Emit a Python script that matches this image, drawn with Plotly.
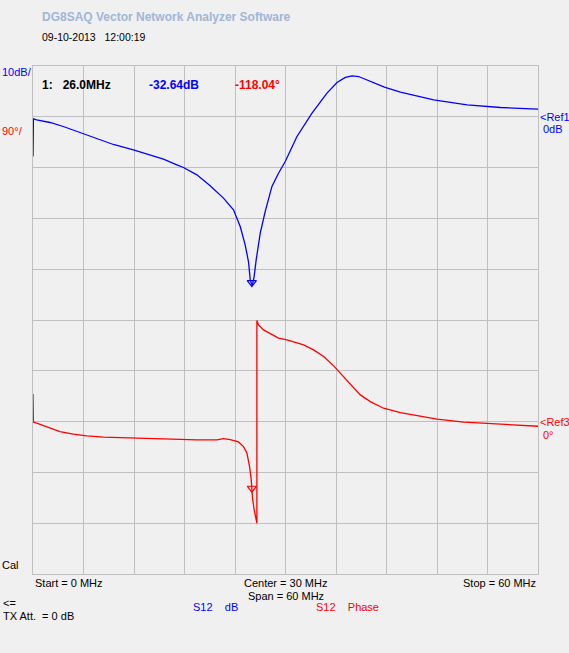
import plotly.graph_objects as go

# ---- data ----
freq_db = [0.0, 0.05, 0.44, 2.02, 3.60, 5.59, 7.58, 9.55, 11.93, 13.92, 15.50, 17.09, 17.88,
           19.47, 21.05, 22.63, 23.82, 24.62, 25.21, 25.61, 25.81, 26.05, 26.28, 26.52, 27.00,
           27.59, 28.39, 29.17, 29.97, 31.36, 33.15, 34.93, 36.12, 37.11, 37.90, 38.69, 40.08,
           41.75, 43.65, 47.61, 51.58, 55.54, 59.94, 60.0]
s12_db = [-7.8, -0.4, -0.59, -1.12, -1.91, -3.09, -4.39, -5.45, -6.50, -7.48, -8.33, -9.45, -9.98,
          -11.42, -13.58, -16.0, -18.31, -21.59, -25.2, -28.6, -32.1, -33.3, -31.4, -28.1, -22.9,
          -18.6, -13.7, -11.1, -8.8, -3.88, 0.73, 4.67, 6.75, 7.74, 8.07, 7.93, 6.95,
          5.85, 4.86, 3.35, 2.36, 1.83, 1.52, 1.52]

freq_ph = [0.0, 0.05, 0.44, 1.23, 2.02, 3.21, 4.79, 6.39, 8.36, 11.54, 15.50, 19.47, 21.85, 22.63,
           23.43, 24.42, 25.01, 25.42, 25.73, 25.93, 26.08, 26.28, 26.48, 26.60, 26.60, 26.80,
           27.39, 28.19, 29.17, 30.17, 30.96, 32.15, 33.34, 34.53, 35.72, 36.51, 37.70, 38.89,
           40.08, 41.66, 43.65, 45.63, 48.01, 51.18, 54.35, 57.53, 59.91, 60.0]
s12_phase = [49.1, -1.1, -2.8, -7.1, -11.7, -17.7, -22.3, -25.3, -27.6, -29.4, -30.7, -32.4, -32.4, -30.1,
             -31.9, -36.0, -44.3, -56.0, -79.7, -103.3, -135.7, -156.4, -174.2, -180.0, 179.0, 171.3,
             162.5, 155.4, 147.8, 144.7, 141.7, 135.9, 127.0, 115.2, 98.7, 85.8, 65.0, 47.3,
             35.4, 23.7, 15.9, 10.1, 4.3, -1.1, -4.1, -6.4, -8.1, -8.2]

marker_freq = [26.0]
marker_db = [-32.64]
marker_phase = [-118.04]

BLUE = "#0000ff"
RED = "#ff0000"
GRID = "#c0c0c0"
BG = "#f0f0f0"
FONT = "Liberation Sans"

fig = go.Figure()
fig.add_trace(go.Scatter(x=freq_db, y=s12_db, mode="lines", line=dict(color=BLUE, width=1.3),
                         yaxis="y", showlegend=False, hoverinfo="skip"))
fig.add_trace(go.Scatter(x=freq_ph, y=s12_phase, mode="lines", line=dict(color=RED, width=1.3),
                         yaxis="y2", showlegend=False, hoverinfo="skip"))
fig.add_trace(go.Scatter(x=marker_freq, y=marker_db, mode="markers",
                         marker=dict(symbol="triangle-down-open", size=8, color=BLUE, line=dict(width=1.2)),
                         yaxis="y", showlegend=False, hoverinfo="skip"))
fig.add_trace(go.Scatter(x=marker_freq, y=marker_phase, mode="markers",
                         marker=dict(symbol="triangle-down-open", size=8, color=RED, line=dict(width=1.2)),
                         yaxis="y2", showlegend=False, hoverinfo="skip"))

# plot area in pixels
L, T, R, B = 33, 66, 31, 79
WIN_W, WIN_H = 569, 653
PW = WIN_W - L - R
PH = WIN_H - T - B


def px(x):
    return (x - L) / PW


def py(y):
    return (T + PH - y) / PH


texts = [
    ("<b>DG8SAQ Vector Network Analyzer Software</b>", 40, 17, "#9fb6d6", "left", 12),
    ("09-10-2013&nbsp;&nbsp;&nbsp;12:00:19", 40, 37, "#000000", "left", 10.5),
    ("10dB/", 0, 72, BLUE, "left", 11),
    ("90°/", 0, 131, RED, "left", 11),
    ("<b>1:&nbsp;&nbsp;&nbsp;26.0MHz</b>", 40, 85, "#000000", "left", 12),
    ("<b>-32.64dB</b>", 147, 85, BLUE, "left", 12),
    ("<b>-118.04°</b>", 233, 85, RED, "left", 12),
    ("&lt;Ref1", 538, 117, BLUE, "left", 11),
    ("0dB", 541, 129, BLUE, "left", 11),
    ("&lt;Ref3", 538, 422, RED, "left", 11),
    ("0°", 541, 435, RED, "left", 11),
    ("Cal", 0, 565, "#000000", "left", 11),
    ("Start = 0 MHz", 33, 583, "#000000", "left", 11),
    ("Center = 30 MHz", 285.5, 583, "#000000", "center", 11),
    ("Span = 60 MHz", 285.5, 596, "#000000", "center", 11),
    ("Stop = 60 MHz", 538, 583, "#000000", "right", 11),
    ("&lt;=", 1, 603, "#000000", "left", 11),
    ("TX Att.&nbsp;&nbsp;= 0 dB", 1, 616, "#000000", "left", 11),
    ("S12&nbsp;&nbsp;&nbsp;&nbsp;dB", 191, 607, BLUE, "left", 11),
    ("S12&nbsp;&nbsp;&nbsp;&nbsp;Phase", 314, 607, RED, "left", 11),
]

annotations = []
for txt, x, y, col, anchor, size in texts:
    annotations.append(dict(text=txt, x=px(x), y=py(y), xref="paper", yref="paper",
                            xanchor=anchor, yanchor="middle", showarrow=False,
                            font=dict(family=FONT, size=size, color=col)))

axis_common = dict(showgrid=True, gridcolor=GRID, gridwidth=1, zeroline=False,
                   showline=True, linecolor=GRID, linewidth=1, mirror=True,
                   showticklabels=False, ticks="")

fig.update_layout(
    width=WIN_W, height=WIN_H,
    margin=dict(l=L, r=R, t=T, b=B, pad=0),
    paper_bgcolor=BG, plot_bgcolor=BG,
    xaxis=dict(range=[0, 60], dtick=6, tick0=0, fixedrange=True, **axis_common),
    yaxis=dict(range=[-90, 10], dtick=10, tick0=0, fixedrange=True, **axis_common),
    yaxis2=dict(range=[-270, 630], overlaying="y", side="right", showgrid=False, fixedrange=True,
                zeroline=False, showticklabels=False, ticks="", showline=False),
    annotations=annotations,
    showlegend=False,
    hovermode=False,
)

fig.write_html(
    "out.html",
    config={"displayModeBar": False, "staticPlot": True},
    post_script="document.body.style.margin='0';document.body.style.padding='0';"
                "document.body.style.overflow='hidden';document.body.style.background='#f0f0f0';",
)
